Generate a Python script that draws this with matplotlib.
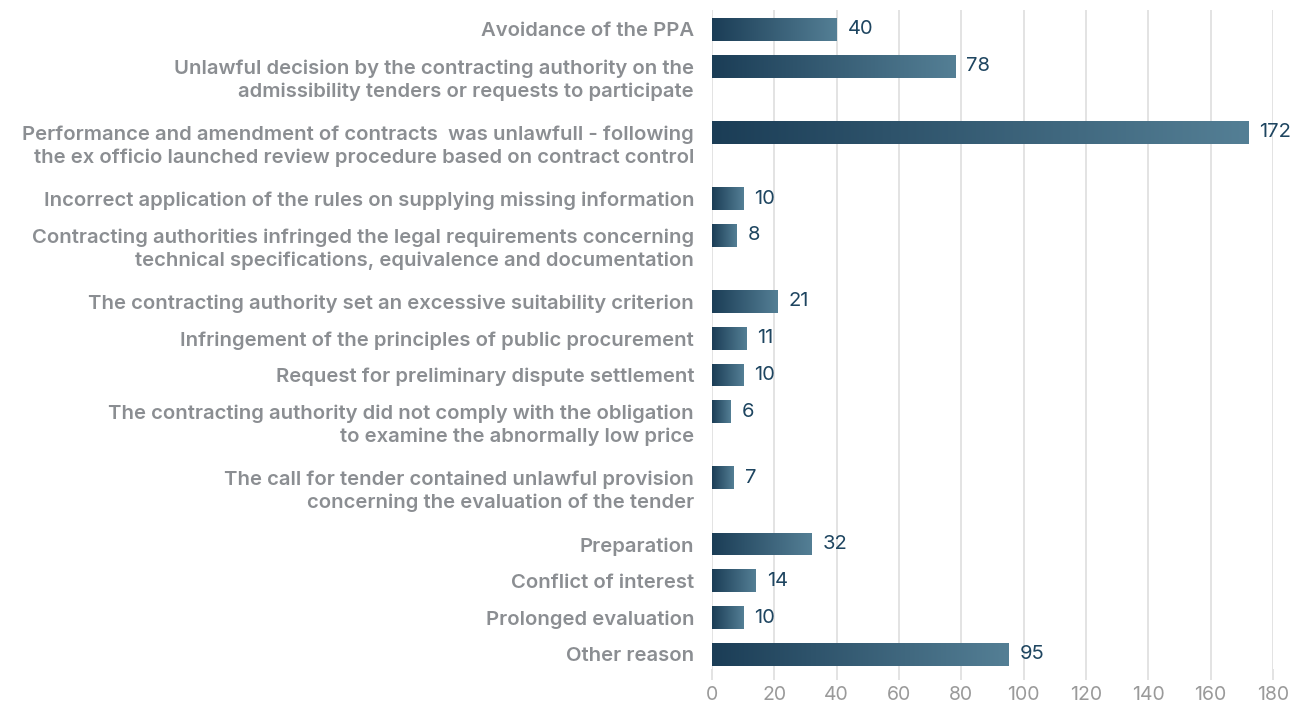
import matplotlib
matplotlib.use('Agg')
import matplotlib.pyplot as plt
import numpy as np
from matplotlib.colors import LinearSegmentedColormap
from matplotlib import transforms

labels = [
    "Avoidance of the PPA",
    "Unlawful decision by the contracting authority on the\nadmissibility tenders or requests to participate",
    "Performance and amendment of contracts  was unlawfull - following\nthe ex officio launched review procedure based on contract control",
    "Incorrect application of the rules on supplying missing information",
    "Contracting authorities infringed the legal requirements concerning\ntechnical specifications, equivalence and documentation",
    "The contracting authority set an excessive suitability criterion",
    "Infringement of the principles of public procurement",
    "Request for preliminary dispute settlement",
    "The contracting authority did not comply with the obligation\nto examine the abnormally low price",
    "The call for tender contained unlawful provision\nconcerning the evaluation of the tender",
    "Preparation",
    "Conflict of interest",
    "Prolonged evaluation",
    "Other reason",
]
values = [40, 78, 172, 10, 8, 21, 11, 10, 6, 7, 32, 14, 10, 95]
xticks = list(range(0, 181, 20))

dark = '#1b3d56'
light = '#547f95'
label_col = '#8b8e92'
value_col = '#1e4560'
grid_col = '#dedede'

cmap = LinearSegmentedColormap.from_list('bar', [dark, light])

# y positions: two-line labels need more room
pos = [0.0]
for lab in labels[:-1]:
    pos.append(pos[-1] + 1 + 0.8 * lab.count('\n'))
pos = np.array(pos)

fig = plt.figure(figsize=(12.9, 7.06), dpi=100)
ax = fig.add_axes([712/1290, 1 - 669/706, (1273 - 712)/1290, (669 - 10)/706])

h = 0.62
bars = ax.barh(pos, values, height=h, color='none', zorder=3)
grad = np.linspace(0, 1, 256).reshape(1, -1)
for b, v, y in zip(bars, values, pos):
    im = ax.imshow(grad, cmap=cmap, aspect='auto', zorder=3,
                   extent=[0, v, y + h/2, y - h/2], interpolation='bilinear')
    im.set_clip_path(b)
    ax.text(v + 3.6, y, str(v), va='center', ha='left', fontsize=14.5,
            color=value_col, family='Inter', zorder=4, clip_on=False)

ax.set_xlim(0, 180)
ax.set_ylim(pos[-1] + 0.4, pos[0] - 0.53)
ax.set_aspect('auto')

ax.set_xticks(xticks)
ax.tick_params(axis='x', length=8, color=grid_col, width=1.2, pad=4,
               labelsize=14, labelcolor='#9a9a9a')
for t in ax.get_xticklabels():
    t.set_family('Inter')
ax.set_yticks([])
ax.grid(axis='x', color=grid_col, linewidth=1.2, zorder=0)
for s in ax.spines.values():
    s.set_visible(False)

off = transforms.offset_copy(ax.get_yaxis_transform(), fig=fig, x=-18, y=7, units='dots')
for lab, y in zip(labels, pos):
    ax.text(0, y, lab, transform=off, ha='right', va='top', multialignment='right',
            fontsize=14.6, color=label_col, family='Inter', fontweight='semibold',
            linespacing=1.3)

fig.savefig('out.png', dpi=100)
